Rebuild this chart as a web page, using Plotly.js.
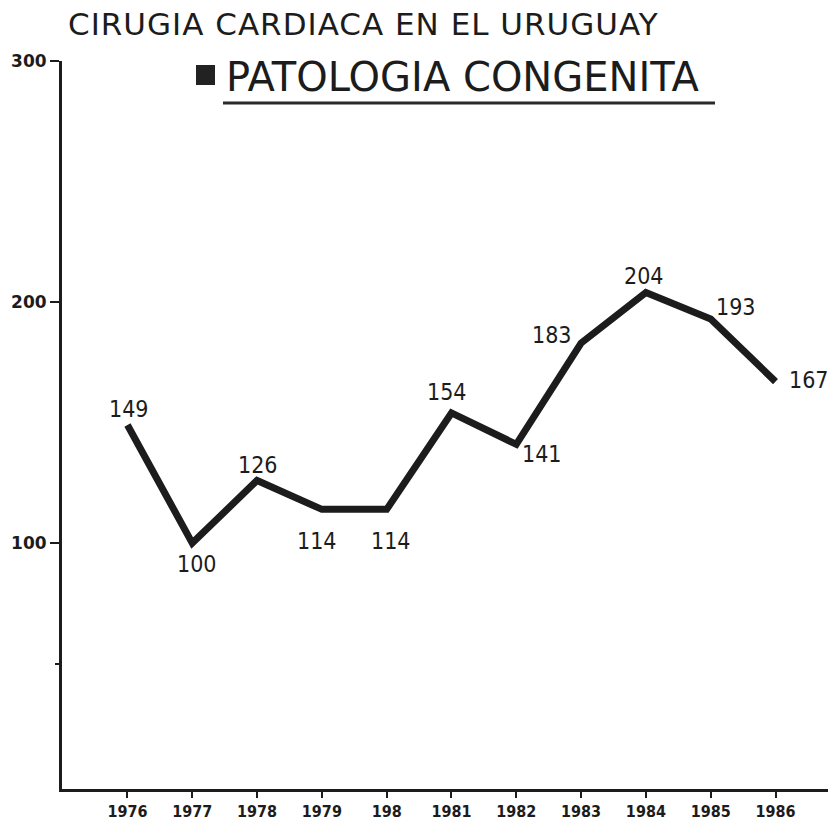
<!DOCTYPE html>
<html>
<head>
<meta charset="utf-8">
<script src="https://cdn.plot.ly/plotly-3.0.1.min.js"></script>
<style>
html,body{margin:0;padding:0;background:#fff;}
#chart{width:828px;height:823px;}
.gtitle{letter-spacing:1px;}
</style>
</head>
<body>
<div id="chart"></div>
<script>
// ---- data ----
const years = [1976, 1977, 1978, 1979, 1980, 1981, 1982, 1983, 1984, 1985, 1986];
const cases = [149, 100, 126, 114, 114, 154, 141, 183, 204, 193, 167];
const xTickLabels = ["1976", "1977", "1978", "1979", "198", "1981", "1982", "1983", "1984", "1985", "1986"];
const yTickVals = [100, 200, 300];
const yTickLabels = ["100", "200", "300"];
const chartTitle = "CIRUGIA CARDIACA EN EL URUGUAY";
const seriesName = "PATOLOGIA CONGENITA";

// ---- label placement (pixels, relative to point) ----
const labelDX = [2, 5, 1, -5, 4, -4, 26, -29, -2, 25, 33];
const labelDY = [16, -21, 15, -32, -32, 21, -10, 8, 16, 12, 2];

const ink = "#1c1c1c";
const labelFont = {family: "DejaVu Sans Condensed, Liberation Sans Narrow, DejaVu Sans, sans-serif", size: 23, color: ink};

const annotations = years.map((yr, i) => ({
  x: yr, y: cases[i], xref: "x", yref: "y",
  text: String(cases[i]), showarrow: false,
  xshift: labelDX[i], yshift: labelDY[i],
  font: labelFont
}));

annotations.push({
  xref: "paper", yref: "paper", x: (224 - 62) / 766, y: (789 - 77) / 728,
  xanchor: "left", yanchor: "middle",
  text: seriesName, showarrow: false,
  font: {family: "DejaVu Sans, sans-serif", size: 40, color: ink}
});

const trace = {
  x: years, y: cases, type: "scatter", mode: "lines",
  line: {color: ink, width: 7}, hoverinfo: "skip", showlegend: false
};

const layout = {
  width: 828, height: 823,
  margin: {l: 62, r: 0, t: 61, b: 34},
  paper_bgcolor: "#fff", plot_bgcolor: "#fff",
  showlegend: false,
  title: {
    text: chartTitle, xref: "container", yref: "container",
    x: 68 / 828, xanchor: "left", y: 1 - 24 / 823, yanchor: "middle",
    font: {family: "DejaVu Sans, sans-serif", size: 31, color: ink}
  },
  xaxis: {
    range: [1974.99, 1986.81], showgrid: false, zeroline: false,
    showline: true, linecolor: ink, linewidth: 3,
    tickmode: "array", tickvals: years, ticktext: xTickLabels,
    ticks: "outside", ticklen: 6, tickwidth: 2, tickcolor: ink,
    ticklabelstandoff: 0,
    tickfont: {family: "DejaVu Sans Condensed, Liberation Sans Narrow, sans-serif", size: 16, color: ink, weight: "bold"}
  },
  yaxis: {
    range: [-2, 300], showgrid: false, zeroline: false,
    showline: true, linecolor: ink, linewidth: 3,
    tickmode: "array", tickvals: yTickVals, ticktext: yTickLabels,
    ticks: "outside", ticklen: 9, tickwidth: 2, tickcolor: ink,
    tickfont: {family: "DejaVu Sans, sans-serif", size: 17, color: ink, weight: "bold"},
    minor: {tickvals: [50], ticks: "outside", ticklen: 4, tickwidth: 2, tickcolor: ink}
  },
  shapes: [
    {type: "rect", xref: "paper", yref: "paper",
     x0: (196 - 62) / 766, x1: (215 - 62) / 766,
     y0: (789 - 85) / 728, y1: (789 - 65) / 728,
     fillcolor: "#222", line: {width: 0}},
    {type: "line", xref: "paper", yref: "paper",
     x0: (223 - 62) / 766, x1: (715 - 62) / 766,
     y0: (789 - 103) / 728, y1: (789 - 103) / 728,
     line: {color: "#2a2a2a", width: 3}}
  ],
  annotations: annotations
};

Plotly.newPlot("chart", [trace], layout, {displayModeBar: false, staticPlot: true});
</script>
</body>
</html>
